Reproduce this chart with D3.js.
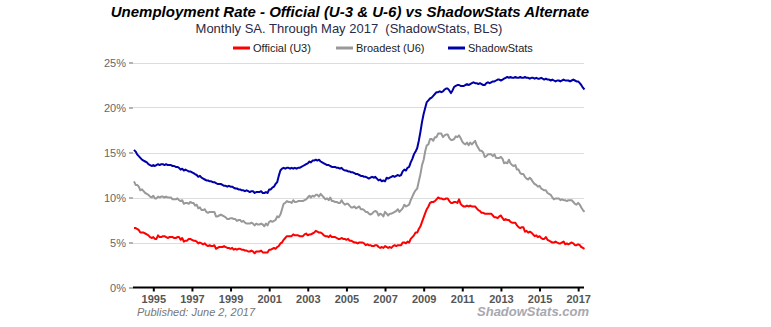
<!DOCTYPE html>
<html>
<head>
<meta charset="utf-8">
<script src="https://cdnjs.cloudflare.com/ajax/libs/d3/7.8.5/d3.min.js"></script>
<style>
  body { margin: 0; background: #ffffff; }
  svg { display: block; font-family: "Liberation Sans", Arial, sans-serif; }
</style>
</head>
<body>
<div id="unemp_plot"></div>
<script>
//
// Unemployment rate: U-3, U-6 and the ShadowStats alternate, monthly from Jan 1994
//

var startYear = 1994, startMonth = 0;

var u3 = [
	6.6, 6.6, 6.5, 6.4, 6.1, 6.1, 6.1, 6.0, 5.9, 5.8, 5.6, 5.5,
	5.6, 5.4, 5.4, 5.8, 5.6, 5.6, 5.7, 5.7, 5.6, 5.5, 5.6, 5.6,
	5.6, 5.5, 5.5, 5.6, 5.6, 5.3, 5.5, 5.1, 5.2, 5.2, 5.4, 5.4,
	5.3, 5.2, 5.2, 5.1, 4.9, 5.0, 4.9, 4.8, 4.9, 4.7, 4.6, 4.7,
	4.6, 4.6, 4.7, 4.3, 4.4, 4.5, 4.5, 4.5, 4.6, 4.5, 4.4, 4.4,
	4.3, 4.4, 4.2, 4.3, 4.2, 4.3, 4.3, 4.2, 4.2, 4.1, 4.1, 4.0,
	4.0, 4.1, 4.0, 3.8, 4.0, 4.0, 4.0, 4.1, 3.9, 3.9, 3.9, 3.9,
	4.2, 4.2, 4.3, 4.4, 4.3, 4.5, 4.6, 4.9, 5.0, 5.3, 5.5, 5.7,
	5.7, 5.7, 5.7, 5.9, 5.8, 5.8, 5.8, 5.7, 5.7, 5.7, 5.9, 6.0,
	5.8, 5.9, 5.9, 6.0, 6.1, 6.3, 6.2, 6.1, 6.1, 6.0, 5.8, 5.7,
	5.7, 5.6, 5.8, 5.6, 5.6, 5.6, 5.5, 5.4, 5.4, 5.5, 5.4, 5.4,
	5.3, 5.4, 5.2, 5.2, 5.1, 5.0, 5.0, 4.9, 5.0, 5.0, 5.0, 4.9,
	4.7, 4.8, 4.7, 4.7, 4.6, 4.6, 4.7, 4.7, 4.5, 4.4, 4.5, 4.4,
	4.6, 4.5, 4.4, 4.5, 4.4, 4.6, 4.7, 4.6, 4.7, 4.7, 4.7, 5.0,
	5.0, 4.9, 5.1, 5.0, 5.4, 5.6, 5.8, 6.1, 6.1, 6.5, 6.8, 7.3,
	7.8, 8.3, 8.7, 9.0, 9.4, 9.5, 9.5, 9.6, 9.8, 10.0, 9.9, 9.9,
	9.8, 9.8, 9.9, 9.9, 9.6, 9.4, 9.4, 9.5, 9.5, 9.4, 9.8, 9.3,
	9.1, 9.0, 9.0, 9.1, 9.0, 9.1, 9.0, 9.0, 9.0, 8.8, 8.6, 8.5,
	8.3, 8.3, 8.2, 8.2, 8.2, 8.2, 8.2, 8.0, 7.8, 7.8, 7.7, 7.9,
	8.0, 7.7, 7.5, 7.6, 7.5, 7.5, 7.3, 7.2, 7.2, 7.2, 6.9, 6.7,
	6.6, 6.7, 6.7, 6.2, 6.3, 6.1, 6.2, 6.1, 5.9, 5.7, 5.8, 5.6,
	5.7, 5.5, 5.4, 5.4, 5.6, 5.3, 5.2, 5.1, 5.0, 5.0, 5.1, 5.0,
	4.9, 4.9, 5.0, 5.1, 4.8, 4.9, 4.8, 4.9, 5.0, 4.9, 4.7, 4.7,
	4.8, 4.7, 4.5, 4.4, 4.3
];

var u6 = [
	11.8, 11.4, 11.4, 11.2, 10.8, 10.9, 10.7, 10.5, 10.4, 10.3, 10.1, 10.0,
	10.2, 9.9, 9.9, 10.1, 10.0, 10.1, 10.1, 10.0, 10.1, 10.0, 10.0, 10.0,
	9.8, 9.8, 9.8, 9.9, 9.7, 9.6, 9.7, 9.3, 9.4, 9.4, 9.3, 9.5,
	9.4, 9.4, 9.1, 9.2, 8.8, 8.9, 8.6, 8.6, 8.7, 8.4, 8.3, 8.4,
	8.4, 8.4, 8.4, 7.9, 7.9, 8.0, 8.1, 8.0, 7.9, 7.8, 7.6, 7.6,
	7.7, 7.7, 7.6, 7.6, 7.4, 7.5, 7.5, 7.3, 7.4, 7.2, 7.1, 7.1,
	7.1, 7.2, 7.1, 6.9, 7.1, 7.0, 7.0, 7.1, 7.0, 6.8, 7.1, 6.9,
	7.3, 7.4, 7.3, 7.4, 7.5, 7.9, 7.8, 8.1, 8.7, 9.3, 9.4, 9.6,
	9.5, 9.5, 9.4, 9.7, 9.5, 9.5, 9.6, 9.6, 9.6, 9.6, 9.7, 9.8,
	10.0, 10.2, 10.0, 10.2, 10.1, 10.3, 10.3, 10.1, 10.4, 10.2, 10.0, 9.8,
	9.9, 9.7, 10.0, 9.6, 9.6, 9.5, 9.5, 9.4, 9.4, 9.7, 9.4, 9.2,
	9.3, 9.3, 9.1, 8.9, 8.9, 9.0, 8.8, 8.9, 9.0, 8.7, 8.7, 8.6,
	8.4, 8.4, 8.2, 8.1, 8.2, 8.4, 8.5, 8.4, 8.0, 8.2, 8.1, 7.9,
	8.4, 8.2, 8.0, 8.2, 8.2, 8.3, 8.4, 8.5, 8.7, 8.4, 8.6, 8.8,
	9.2, 9.0, 9.1, 9.2, 9.7, 10.1, 10.5, 10.8, 11.0, 11.8, 12.6, 13.6,
	14.2, 15.2, 15.8, 15.9, 16.5, 16.5, 16.3, 16.7, 16.7, 17.1, 17.1, 17.1,
	16.7, 16.9, 17.0, 17.0, 16.6, 16.4, 16.4, 16.5, 16.8, 16.7, 16.9, 16.6,
	16.2, 16.0, 15.9, 16.1, 15.8, 16.1, 15.9, 16.1, 16.3, 15.8, 15.5, 15.2,
	15.2, 15.0, 14.5, 14.6, 14.8, 14.8, 14.8, 14.6, 14.8, 14.4, 14.4, 14.4,
	14.5, 14.3, 13.8, 13.9, 13.8, 14.2, 13.8, 13.6, 13.5, 13.6, 13.1, 13.1,
	12.7, 12.6, 12.6, 12.3, 12.1, 12.0, 12.2, 12.0, 11.7, 11.5, 11.4, 11.2,
	11.3, 11.0, 10.9, 10.8, 10.8, 10.5, 10.4, 10.3, 10.0, 9.8, 9.9, 9.9,
	9.9, 9.7, 9.8, 9.7, 9.7, 9.6, 9.7, 9.7, 9.7, 9.5, 9.3, 9.2,
	9.4, 9.2, 8.9, 8.6, 8.4
];

var shadowStats = [
	15.3, 15.1, 14.8, 14.6, 14.4, 14.2, 14.1, 14.0, 13.9, 13.7, 13.6, 13.5,
	13.6, 13.5, 13.6, 13.7, 13.6, 13.7, 13.7, 13.6, 13.7, 13.6, 13.6, 13.6,
	13.5, 13.5, 13.4, 13.4, 13.3, 13.1, 13.2, 13.0, 13.1, 13.0, 12.9, 12.9,
	12.8, 12.7, 12.6, 12.5, 12.3, 12.4, 12.2, 12.1, 12.0, 11.9, 11.9, 11.8,
	11.8, 11.7, 11.7, 11.6, 11.5, 11.5, 11.5, 11.4, 11.3, 11.3, 11.2, 11.3,
	11.2, 11.2, 11.1, 11.0, 11.0, 10.9, 10.9, 10.8, 10.8, 10.7, 10.8, 10.7,
	10.6, 10.7, 10.7, 10.5, 10.6, 10.6, 10.6, 10.7, 10.5, 10.5, 10.6, 10.5,
	10.9, 10.9, 11.1, 11.2, 11.5, 11.7, 12.4, 13.0, 13.2, 13.3, 13.2, 13.3,
	13.3, 13.2, 13.3, 13.2, 13.3, 13.2, 13.3, 13.3, 13.4, 13.5, 13.6, 13.7,
	13.8, 14.0, 13.9, 14.1, 14.1, 14.2, 14.1, 14.2, 14.0, 13.9, 13.8, 13.7,
	13.6, 13.6, 13.5, 13.4, 13.4, 13.4, 13.3, 13.3, 13.2, 13.3, 13.1, 13.0,
	13.0, 12.9, 12.9, 12.8, 12.8, 12.7, 12.6, 12.6, 12.5, 12.4, 12.4, 12.3,
	12.3, 12.2, 12.1, 12.2, 12.3, 12.2, 12.3, 12.1, 11.9, 12.0, 11.8, 11.9,
	11.8, 12.2, 12.1, 12.2, 12.3, 12.4, 12.3, 12.4, 12.5, 12.4, 12.5, 12.9,
	13.1, 13.0, 13.3, 13.4, 13.9, 14.3, 14.8, 15.1, 15.5, 16.3, 17.3, 18.4,
	19.3, 20.0, 20.6, 20.8, 21.0, 21.1, 21.3, 21.5, 21.7, 21.7, 21.8, 21.7,
	21.8, 22.0, 22.1, 22.1, 21.9, 21.6, 21.9, 22.3, 22.4, 22.5, 22.5, 22.4,
	22.4, 22.4, 22.5, 22.6, 22.5, 22.6, 22.7, 22.8, 22.7, 22.7, 22.6, 22.7,
	22.6, 22.5, 22.5, 22.7, 22.8, 22.7, 22.8, 22.9, 22.9, 23.0, 23.1, 23.1,
	23.0, 23.1, 23.2, 23.3, 23.4, 23.3, 23.4, 23.3, 23.3, 23.4, 23.3, 23.3,
	23.4, 23.3, 23.3, 23.4, 23.3, 23.3, 23.2, 23.3, 23.3, 23.2, 23.3, 23.2,
	23.2, 23.3, 23.2, 23.1, 23.2, 23.1, 23.1, 23.0, 23.1, 23.0, 22.9, 23.0,
	23.0, 22.9, 23.0, 23.1, 23.0, 23.0, 23.0, 22.9, 23.0, 23.1, 23.0, 22.9,
	22.9, 22.7, 22.5, 22.2, 22.0
];

var yearTicks = [1995, 1997, 1999, 2001, 2003, 2005, 2007, 2009, 2011, 2013, 2015, 2017];
var pctTicks = [0, 5, 10, 15, 20, 25];

var seriesNames = ["Official (U3)", "Broadest (U6)", "ShadowStats"];
var seriesColors = ["#ff0000", "#999999", "#0000a8"];

var titleText = "Unemployment Rate - Official (U-3 & U-6) vs ShadowStats Alternate";
var subtitleText = "Monthly SA. Through May 2017\u00a0\u00a0(ShadowStats, BLS)";
var publishedText = "Published: June 2, 2017";
var brandText = "ShadowStats.com";


function to_points(values) {
	return values.map(function(v, i) {
		return { date: new Date(startYear, startMonth + i, 1), value: v };
	});
}

function UnemploymentChart() {
	var total_width = 771,
	    total_height = 327;

	var plot = {left: 133, right: 584, top: 62.5, bottom: 287.5};

	function my(selection) {
		var svg = selection.append("svg")
				.attr("width", total_width)
				.attr("height", total_height);

		var n = u3.length;
		var x = d3.scaleTime()
			.domain([new Date(startYear, startMonth, 1), new Date(startYear, startMonth + n - 1, 1)])
			.range([134, 584.5]);

		var y = d3.scaleLinear()
			.domain([0, 25])
			.range([plot.bottom, plot.top]);

		// Titles
		svg.append("text")
				.attr("x", 350)
				.attr("y", 17)
				.attr("text-anchor", "middle")
				.attr("font-size", "15px")
				.attr("font-weight", "bold")
				.attr("font-style", "italic")
				.attr("fill", "#000000")
				.text(titleText)

		svg.append("text")
				.attr("x", 349)
				.attr("y", 33)
				.attr("text-anchor", "middle")
				.attr("font-size", "13px")
				.attr("fill", "#2a2a48")
				.text(subtitleText)

		// Legend
		var legendX = [233, 336, 448];
		var legend = svg.append("g")
			.selectAll("g")
			.data(seriesNames)
			.enter()
			.append("g")
				.attr("transform", function(d, i) { return "translate(" + legendX[i] + ",48)"; });

		legend.append("line")
				.attr("x1", 0).attr("x2", 17)
				.attr("y1", 0).attr("y2", 0)
				.attr("stroke", function(d, i) { return seriesColors[i]; })
				.attr("stroke-width", 3)

		legend.append("text")
				.attr("x", 20)
				.attr("y", 4)
				.attr("font-size", "11px")
				.attr("fill", "#222222")
				.text(function(d) { return d; })

		// Horizontal gridlines
		svg.append("g")
			.selectAll("line")
			.data(pctTicks.filter(function(d) { return d > 0; }))
			.enter()
			.append("line")
				.attr("x1", plot.left)
				.attr("x2", plot.right)
				.attr("y1", function(d) { return Math.round(y(d)) + 0.5; })
				.attr("y2", function(d) { return Math.round(y(d)) + 0.5; })
				.attr("stroke", "#dddddd")
				.attr("stroke-width", 1)

		// Y axis: ticks and labels only
		var yAxis = svg.append("g")
				.attr("transform", "translate(" + plot.left + ",0)")
				.call(d3.axisLeft(y)
					.tickValues(pctTicks)
					.tickSize(4)
					.tickPadding(3)
					.tickFormat(function(d) { return d + "%"; }))

		yAxis.select(".domain").remove();
		yAxis.selectAll("line").attr("stroke", "#666666");
		yAxis.selectAll("text")
				.attr("font-size", "11px")
				.attr("font-family", "Liberation Sans, Arial, sans-serif")
				.attr("fill", "#666666");

		// Lines
		var line = d3.line()
			.x(function(d) { return x(d.date); })
			.y(function(d) { return y(d.value); });

		[u3, u6, shadowStats].forEach(function(values, i) {
			svg.append("path")
					.datum(to_points(values))
					.attr("fill", "none")
					.attr("stroke", seriesColors[i])
					.attr("stroke-width", 2)
					.attr("stroke-linejoin", "round")
					.attr("d", line)
		});

		// X axis
		var xAxis = svg.append("g")
				.attr("transform", "translate(0," + plot.bottom + ")")
				.call(d3.axisBottom(x)
					.tickValues(yearTicks.map(function(yr) { return new Date(yr, 0, 1); }))
					.tickSize(4)
					.tickSizeOuter(0)
					.tickPadding(4)
					.tickFormat(d3.timeFormat("%Y")))

		xAxis.select(".domain")
				.attr("d", "M" + plot.left + ",0H" + plot.right)
				.attr("stroke", "#000000")
				.attr("stroke-width", 2);
		xAxis.selectAll("line").attr("stroke", "#000000").attr("stroke-width", 2);
		xAxis.selectAll("text")
				.attr("font-size", "11px")
				.attr("font-weight", "bold")
				.attr("font-family", "Liberation Sans, Arial, sans-serif")
				.attr("fill", "#555555");

		// Footer
		svg.append("text")
				.attr("x", 137)
				.attr("y", 316)
				.attr("font-size", "11px")
				.attr("font-style", "italic")
				.attr("fill", "#777777")
				.text(publishedText)

		svg.append("text")
				.attr("x", 589)
				.attr("y", 316)
				.attr("text-anchor", "end")
				.attr("font-size", "13px")
				.attr("font-weight", "bold")
				.attr("font-style", "italic")
				.attr("fill", "#a8a8b0")
				.text(brandText)
	}

	return my;
}

var unemp_chart = UnemploymentChart();
unemp_chart(d3.select("#unemp_plot"));
</script>
</body>
</html>
